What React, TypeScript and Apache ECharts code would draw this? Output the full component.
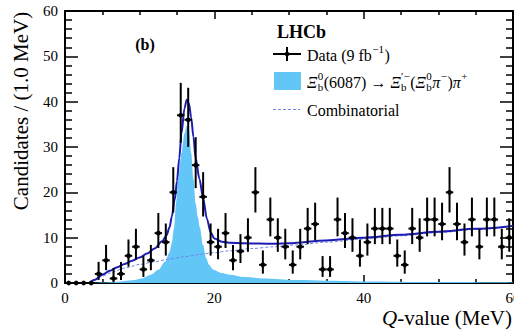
import React, { useEffect, useRef } from "react";
import * as echarts from "echarts";

// ---- data ----
const counts = [
  0, 0, 0, 0, 2, 5, 1, 2, 6, 8, 3, 5, 11, 9, 20, 37, 36, 26, 19, 9,
  8, 11, 5, 7, 10, 20, 4, 14, 10, 8, 4, 8, 12, 13, 3, 3, 14, 11, 10, 6,
  9, 12, 12, 12, 6, 4, 12, 10, 14, 14, 13, 20, 13, 9, 14, 8, 14, 14, 8, 10,
];
const binCenters = counts.map((_, i) => i + 0.5);

const totalX = [3.3, 4, 5, 6, 7, 8, 9, 10, 11, 12, 13, 13.6, 14, 14.3, 14.7, 15, 15.3, 15.6, 16, 16.3, 16.6, 16.9, 17.2, 17.5, 18, 18.5, 19, 19.5, 20, 21, 22, 24, 26, 28, 30, 35, 40, 45, 50, 55, 60];
const totalY = [0, 0.7, 1.8, 2.7, 3.5, 4.2, 4.9, 5.6, 6.5, 7.6, 9.2, 10.5, 12.3, 14.6, 18.4, 22.5, 27.5, 33, 38.5, 40.4, 39.6, 36.5, 32.2, 27.5, 23, 18.7, 14.2, 11.2, 9.8, 9.1, 8.9, 8.75, 8.7, 8.65, 8.75, 9.4, 10.0, 10.65, 11.3, 11.95, 12.6];

const combX = [3.4, 4, 5, 6, 8, 10, 12, 14, 16, 18, 20, 22, 25, 28, 31, 35, 40, 45, 50, 55, 60];
const combY = [0, 0.6, 1.5, 2.2, 3.3, 4.1, 4.7, 5.3, 5.8, 6.3, 6.7, 7.1, 7.6, 8.0, 8.4, 9.0, 9.7, 10.4, 11.1, 11.8, 12.5];

const sigX = [3.5, 5, 7, 9, 10.3, 11.5, 12.5, 13.4, 14, 14.3, 14.6, 14.9, 15.15, 15.6, 16, 16.3, 16.6, 16.9, 17.2, 17.5, 17.8, 18.05, 18.5, 18.9, 19.3, 19.8, 21, 22.1, 24, 26.5, 31, 35, 40, 50, 60];
const sigY = [0, 0.1, 0.3, 0.6, 1.0, 1.8, 2.9, 4.7, 6.8, 8.8, 12, 18, 22.8, 28.7, 33, 34.7, 33.9, 28.7, 23, 17.5, 14.5, 12.3, 8.3, 5.5, 4.0, 3.0, 2.2, 1.8, 1.3, 1.0, 0.66, 0.5, 0.35, 0.2, 0.12];

const xTickInterval = 20;
const yTickInterval = 10;

// ---- style ----
const SERIF = "'Liberation Serif', 'Times New Roman', 'DejaVu Serif', serif";
const SIG_COLOR = "#62c6f6";
const TOTAL_COLOR = "#1c1cb4";
const COMB_COLOR = "#7086e6";

let measureCtx: CanvasRenderingContext2D | null = null;
function textWidth(s: string, font: string): number {
  if (!measureCtx) measureCtx = document.createElement("canvas").getContext("2d");
  if (!measureCtx) return s.length * 8;
  measureCtx.font = font;
  return measureCtx.measureText(s).width;
}

function txt(text: string, x: number, y: number, font: string, align = "left") {
  return {
    type: "text",
    x,
    y,
    silent: true,
    style: {
      text,
      font,
      fill: "#000",
      textAlign: align,
      align,
      textVerticalAlign: "middle",
      verticalAlign: "middle",
    },
  };
}

type Piece = { t?: string; it?: boolean; sup?: string; sub?: string };
function layoutPieces(pieces: Piece[], x0: number, yc: number, size: number, measureOnly = false): { els: any[]; width: number } {
  const els: any[] = [];
  let x = x0;
  const small = Math.round(size * 0.68);
  for (const p of pieces) {
    if (p.t) {
      const font = `${p.it ? "italic " : ""}${size}px ${SERIF}`;
      els.push(txt(p.t, x, yc, font));
      x += textWidth(p.t, font);
    }
    if (p.sup || p.sub) {
      const f = `${small}px ${SERIF}`;
      let w = 0;
      if (p.sup) {
        els.push(txt(p.sup, x + 0.5, yc - size * 0.36, f));
        w = Math.max(w, textWidth(p.sup, f));
      }
      if (p.sub) {
        els.push(txt(p.sub, x + 0.5, yc + size * 0.3, f));
        w = Math.max(w, textWidth(p.sub, f));
      }
      x += w + 1;
    }
  }
  return { els: measureOnly ? [] : els, width: x - x0 };
}

export default function App() {
  const ref = useRef<HTMLDivElement>(null);

  useEffect(() => {
    if (!ref.current) return;
    const chart = echarts.init(ref.current, undefined, { renderer: "svg" });

    const dataPoints = counts.map((n, i) => {
      const lo = n > 0 ? Math.sqrt(n - 0.25) : 0;
      const hi = n > 0 ? Math.sqrt(n + 0.75) + 1 : 0;
      return [binCenters[i], n, lo, hi];
    });

    const axisLineStyle = { color: "#000", width: 2 };
    const tickStyle = { color: "#000", width: 1.5 };

    const mkX = (pos: "bottom" | "top") => ({
      type: "value",
      position: pos,
      min: 0,
      max: 60,
      interval: xTickInterval,
      axisLine: { show: true, onZero: false, lineStyle: axisLineStyle },
      axisTick: { show: true, inside: true, length: 8, lineStyle: tickStyle },
      minorTick: { show: true, splitNumber: 4, length: 4, lineStyle: tickStyle },
      axisLabel: { show: pos === "bottom", color: "#000", fontSize: 15, fontFamily: SERIF, margin: 7 },
      splitLine: { show: false },
      minorSplitLine: { show: false },
    });
    const mkY = (pos: "left" | "right") => ({
      type: "value",
      position: pos,
      min: 0,
      max: 60,
      interval: yTickInterval,
      axisLine: { show: true, onZero: false, lineStyle: axisLineStyle },
      axisTick: { show: true, inside: true, length: 13, lineStyle: tickStyle },
      minorTick: { show: true, splitNumber: 5, length: 7, lineStyle: tickStyle },
      axisLabel: { show: pos === "left", color: "#000", fontSize: 15, fontFamily: SERIF, margin: 7 },
      splitLine: { show: false },
      minorSplitLine: { show: false },
    });

    // legend & labels
    const g: any[] = [];
    g.push(txt("LHCb", 277, 32, `bold 18px ${SERIF}`));
    g.push(txt("(b)", 145, 44, `bold 16px ${SERIF}`, "center"));
    // data marker
    g.push({ type: "line", silent: true, shape: { x1: 273, y1: 54, x2: 301, y2: 54 }, style: { stroke: "#000", lineWidth: 2 } });
    g.push({ type: "line", silent: true, shape: { x1: 287, y1: 47, x2: 287, y2: 61 }, style: { stroke: "#000", lineWidth: 2 } });
    g.push({ type: "circle", silent: true, shape: { cx: 287, cy: 54, r: 2.4 }, style: { fill: "#000" } });
    g.push(...layoutPieces([{ t: "Data (9 fb" }, { sup: "\u22121" }, { t: ")" }], 307, 55, 16).els);
    // signal
    g.push({ type: "rect", silent: true, shape: { x: 274, y: 72, width: 27, height: 18 }, style: { fill: SIG_COLOR } });
    g.push(
      ...layoutPieces(
        [
          { t: "\u039E", it: true },
          { sup: "0", sub: "b" },
          { t: "(6087) \u2192 " },
          { t: "\u039E", it: true },
          { sup: "\u2032\u2212", sub: "b" },
          { t: "(" },
          { t: "\u039E", it: true },
          { sup: "0", sub: "b" },
          { t: "\u03C0", it: true },
          { sup: "\u2212" },
          { t: ")" },
          { t: "\u03C0", it: true },
          { sup: "+" },
        ],
        307,
        82,
        16
      ).els
    );
    // combinatorial
    g.push({ type: "line", silent: true, shape: { x1: 273, y1: 109.5, x2: 300, y2: 109.5 }, style: { stroke: COMB_COLOR, lineWidth: 1, lineDash: [3, 2] } });
    g.push(txt("Combinatorial", 307, 110, `16px ${SERIF}`));

    // axis titles
    const xTitle: Piece[] = [{ t: "Q", it: true }, { t: "-value (MeV)" }];
    const xw = layoutPieces(xTitle, 0, 0, 21, true).width;
    g.push(...layoutPieces(xTitle, 512 - xw, 318, 21).els);
    g.push({
      type: "text",
      x: 21,
      y: 111,
      rotation: Math.PI / 2,
      silent: true,
      style: {
        text: "Candidates / (1.0 MeV)",
        font: `21px ${SERIF}`,
        fill: "#000",
        textAlign: "center",
        align: "center",
        textVerticalAlign: "middle",
        verticalAlign: "middle",
      },
    });

    chart.setOption({
      animation: false,
      grid: { left: 65, right: 1, top: 11, bottom: 47, containLabel: false, outerBoundsMode: "none" },
      xAxis: [mkX("bottom"), mkX("top")],
      yAxis: [mkY("left"), mkY("right")],
      series: [
        {
          type: "line",
          name: "signal",
          data: sigX.map((x, i) => [x, sigY[i]]),
          showSymbol: false,
          smooth: 0.3,
          smoothMonotone: "x",
          lineStyle: { width: 0, color: SIG_COLOR },
          itemStyle: { color: SIG_COLOR },
          areaStyle: { color: SIG_COLOR, opacity: 1 },
          silent: true,
          z: 1,
        },
        {
          type: "line",
          name: "comb",
          data: combX.map((x, i) => [x, combY[i]]),
          showSymbol: false,
          smooth: 0.3,
          smoothMonotone: "x",
          lineStyle: { width: 1, color: COMB_COLOR, type: [3, 2] },
          itemStyle: { color: COMB_COLOR },
          silent: true,
          z: 2,
        },
        {
          type: "line",
          name: "total",
          data: totalX.map((x, i) => [x, totalY[i]]),
          showSymbol: false,
          smooth: 0.3,
          smoothMonotone: "x",
          lineStyle: { width: 2, color: TOTAL_COLOR },
          itemStyle: { color: TOTAL_COLOR },
          silent: true,
          z: 3,
        },
        {
          type: "custom",
          name: "data",
          data: dataPoints,
          encode: { x: 0, y: 1 },
          silent: true,
          z: 4,
          renderItem: (_params: any, api: any) => {
            const x = api.value(0) as number;
            const n = api.value(1) as number;
            const lo = api.value(2) as number;
            const hi = api.value(3) as number;
            const c = api.coord([x, n]);
            const l = api.coord([x - 0.5, n]);
            const r = api.coord([x + 0.5, n]);
            const children: any[] = [
              { type: "line", shape: { x1: l[0], y1: c[1], x2: r[0], y2: c[1] }, style: { stroke: "#000", lineWidth: 2 } },
              { type: "circle", shape: { cx: c[0], cy: c[1], r: 2.4 }, style: { fill: "#000" } },
            ];
            if (n > 0) {
              const t = api.coord([x, n + hi]);
              const b = api.coord([x, n - lo]);
              children.push({ type: "line", shape: { x1: c[0], y1: t[1], x2: c[0], y2: b[1] }, style: { stroke: "#000", lineWidth: 2 } });
            }
            return { type: "group", children };
          },
        },
      ],
      graphic: g,
    });

    return () => chart.dispose();
  }, []);

  return (
    <div
      ref={ref}
      style={{ position: "fixed", left: 0, top: 0, width: 514, height: 330, background: "#fff" }}
    />
  );
}
